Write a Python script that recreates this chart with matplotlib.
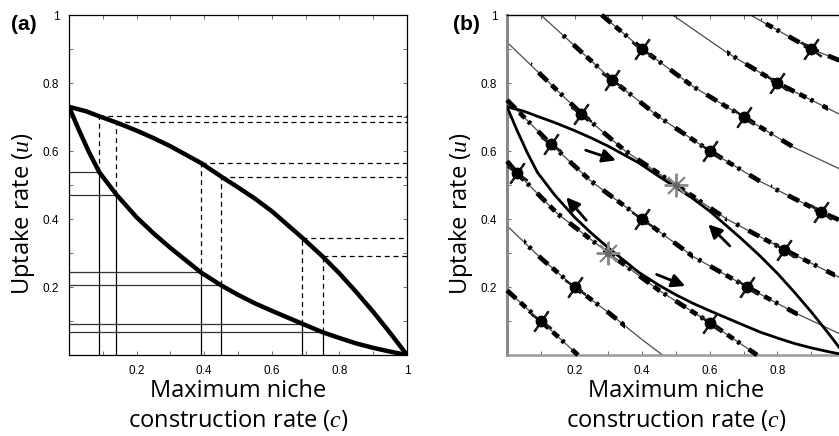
import matplotlib
matplotlib.use("Agg")
import matplotlib.pyplot as plt
from matplotlib.patches import Rectangle, FancyArrowPatch
from matplotlib.ticker import MultipleLocator, FixedLocator

plt.rcParams['mathtext.fontset'] = 'custom'
plt.rcParams['mathtext.it'] = 'Liberation Serif:italic'
plt.rcParams['mathtext.rm'] = 'Liberation Serif'

# boundary curves (same in both panels)
upper_c = [0, 0.05, 0.09, 0.14, 0.2, 0.25, 0.3, 0.39, 0.45, 0.5, 0.55, 0.6, 0.69, 0.75, 0.8, 0.85, 0.9, 0.95, 1.0]
upper_u = [0.73, 0.717, 0.702, 0.684, 0.66, 0.638, 0.614, 0.565, 0.525, 0.493, 0.46, 0.423, 0.345, 0.29, 0.24, 0.185, 0.127, 0.065, 0.0]
lower_c = [0, 0.03, 0.06, 0.09, 0.14, 0.2, 0.25, 0.3, 0.39, 0.45, 0.5, 0.55, 0.6, 0.69, 0.75, 0.8, 0.85, 0.9, 0.95, 1.0]
lower_u = [0.73, 0.66, 0.595, 0.537, 0.472, 0.405, 0.358, 0.315, 0.243, 0.205, 0.177, 0.152, 0.13, 0.092, 0.067, 0.05, 0.034, 0.021, 0.01, 0.0]

# panel (a) reference points
ref_c = [0.09, 0.14, 0.39, 0.45, 0.69, 0.75]
ref_up = [0.702, 0.684, 0.565, 0.525, 0.345, 0.29]
ref_lo = [0.537, 0.472, 0.243, 0.205, 0.092, 0.067]

# panel (b) trajectories
traj_c = [
    [0, 0.1, 0.21],
    [0, 0.1, 0.2, 0.3, 0.4, 0.46],
    [0, 0.03, 0.15, 0.3, 0.45, 0.6, 0.74],
    [0, 0.13, 0.25, 0.4, 0.55, 0.71, 0.85, 1.0],
    [0, 0.22, 0.35, 0.5, 0.65, 0.82, 1.0],
    [0.1, 0.31, 0.45, 0.6, 0.75, 0.93, 1.0],
    [0.28, 0.4, 0.55, 0.7, 0.85, 1.0],
    [0.49, 0.65, 0.8, 1.0],
    [0.72, 0.9, 1.0],
]
traj_u = [
    [0.19, 0.1, 0.0],
    [0.38, 0.285, 0.2, 0.125, 0.045, 0.0],
    [0.57, 0.535, 0.415, 0.3, 0.19, 0.095, 0.0],
    [0.75, 0.62, 0.51, 0.4, 0.29, 0.2, 0.125, 0.055],
    [0.92, 0.71, 0.6, 0.5, 0.4, 0.31, 0.22],
    [1.0, 0.81, 0.7, 0.6, 0.51, 0.42, 0.39],
    [1.0, 0.9, 0.79, 0.7, 0.61, 0.54],
    [1.0, 0.89, 0.8, 0.7],
    [1.0, 0.9, 0.86],
]
# dots on trajectories (trajectory index, c, u)
dot_traj = [0, 1, 3, 5, 6, 7, 8, 2, 3, 4, 5, 6, 2, 3, 4, 5]
dot_c = [0.1, 0.2, 0.4, 0.6, 0.7, 0.8, 0.9, 0.03, 0.13, 0.22, 0.31, 0.4, 0.6, 0.71, 0.82, 0.93]
dot_u = [0.1, 0.2, 0.4, 0.6, 0.7, 0.8, 0.9, 0.535, 0.62, 0.71, 0.81, 0.9, 0.095, 0.2, 0.31, 0.42]
# singular points (stars)
star_traj = [2, 4]
star_c = [0.3, 0.5]
star_u = [0.3, 0.5]

# arrows (start, end)
arrow_start = [(0.225, 0.605), (0.24, 0.39), (0.665, 0.315), (0.435, 0.24)]
arrow_end = [(0.33, 0.57), (0.17, 0.47), (0.59, 0.39), (0.535, 0.20)]

label_font = 'Open Sans'
tick_font = 'Liberation Sans'


def style_axes(ax, xticklabels):
    ax.set_xlim(0, 1)
    ax.set_ylim(0, 1)
    ax.xaxis.set_major_locator(FixedLocator([0.2, 0.4, 0.6, 0.8, 1.0]))
    ax.yaxis.set_major_locator(FixedLocator([0.2, 0.4, 0.6, 0.8, 1.0]))
    ax.xaxis.set_minor_locator(MultipleLocator(0.1))
    ax.yaxis.set_minor_locator(MultipleLocator(0.1))
    ax.set_xticklabels(xticklabels)
    ax.set_yticklabels(['0.2', '0.4', '0.6', '0.8', '1'])
    ax.tick_params(which='both', direction='in', top=True, right=True,
                   length=3, width=0.6, color='#555555')
    ax.tick_params(which='major', labelsize=8.5, pad=7)
    for lab in ax.get_xticklabels() + ax.get_yticklabels():
        lab.set_family(tick_font)
    ax.set_ylabel('Uptake rate ($\\mathit{u}$)', fontsize=17, family=label_font)
    ax.yaxis.set_label_coords(-0.094, 0.415)
    ax.text(0.5, -0.07, 'Maximum niche\nconstruction rate ($\\mathit{c}$)',
            transform=ax.transAxes, ha='center', va='top', fontsize=17,
            family=label_font, linespacing=1.25)


fig = plt.figure(figsize=(8.39, 4.36), dpi=100)
ax_a = fig.add_axes([69 / 839, 81 / 436, 338 / 839, 340 / 436])
ax_b = fig.add_axes([507 / 839, 81 / 436, 338 / 839, 340 / 436])

# ---- panel (a)
for c, up, lo in zip(ref_c, ref_up, ref_lo):
    ax_a.plot([c, 1], [up, up], ls=(0, (4, 3)), lw=0.9, color='black')
    ax_a.plot([c, c], [lo, up], ls=(0, (4, 3)), lw=0.9, color='black')
    ax_a.plot([0, c], [lo, lo], lw=0.9, color='#333333')
    ax_a.plot([c, c], [0, lo], lw=0.9, color='black')
ax_a.plot(upper_c, upper_u, color='black', lw=3.2, solid_capstyle='round', zorder=5)
ax_a.plot(lower_c, lower_u, color='black', lw=3.2, solid_capstyle='round', zorder=5)
style_axes(ax_a, ['0.2', '0.4', '0.6', '0.8', '1'])
for sp in ax_a.spines.values():
    sp.set_linewidth(0.9)
fig.text(11 / 839, 1 - 25 / 436, '(a)', fontsize=15, fontweight='bold',
         family='Liberation Sans', va='center')

# ---- panel (b)
for tc, tu in zip(traj_c, traj_u):
    ax_b.plot(tc, tu, color='#4a4a4a', lw=0.9, zorder=2)
for i, c in zip(dot_traj + star_traj, dot_c + star_c):
    ln, = ax_b.plot(traj_c[i], traj_u[i], color='black', lw=3.4,
                    ls=(0, (2.6, 1.2, 1.6, 1.0, 0.7, 2.2)), zorder=3)
    ln.set_clip_path(Rectangle((c - 0.15, -0.2), 0.3, 1.4, transform=ax_b.transData))
ax_b.plot(upper_c, upper_u, color='black', lw=2.0, zorder=4)
ax_b.plot(lower_c, lower_u, color='black', lw=2.0, zorder=4)
ax_b.plot(dot_c, dot_u, ls='none', marker=(4, 2, -35), ms=18, color='#222222',
          mew=1.5, zorder=6)
ax_b.plot(dot_c, dot_u, ls='none', marker='o', ms=7.5, color='black', zorder=7)
ax_b.plot(star_c, star_u, ls='none', marker=(8, 2, 0), ms=17, color='#8a8a8a',
          mew=1.4, zorder=6)
ax_b.plot(star_c, star_u, ls='none', marker='o', ms=4, color='#666666', zorder=7)
for s, e in zip(arrow_start, arrow_end):
    ax_b.add_patch(FancyArrowPatch(s, e, arrowstyle='-|>,head_length=8,head_width=4',
                                   lw=2.0, color='black', zorder=8))
style_axes(ax_b, ['0.2', '0.4', '0.6', '0.8', ''])
ax_b.spines['left'].set_color('#888888')
ax_b.spines['left'].set_linewidth(2.2)
ax_b.spines['bottom'].set_color('#999999')
ax_b.spines['bottom'].set_linewidth(1.8)
ax_b.spines['top'].set_linewidth(1.0)
fig.text(453 / 839, 1 - 25 / 436, '(b)', fontsize=15, fontweight='bold',
         family='Liberation Sans', va='center')

fig.savefig('out.png', dpi=100)
